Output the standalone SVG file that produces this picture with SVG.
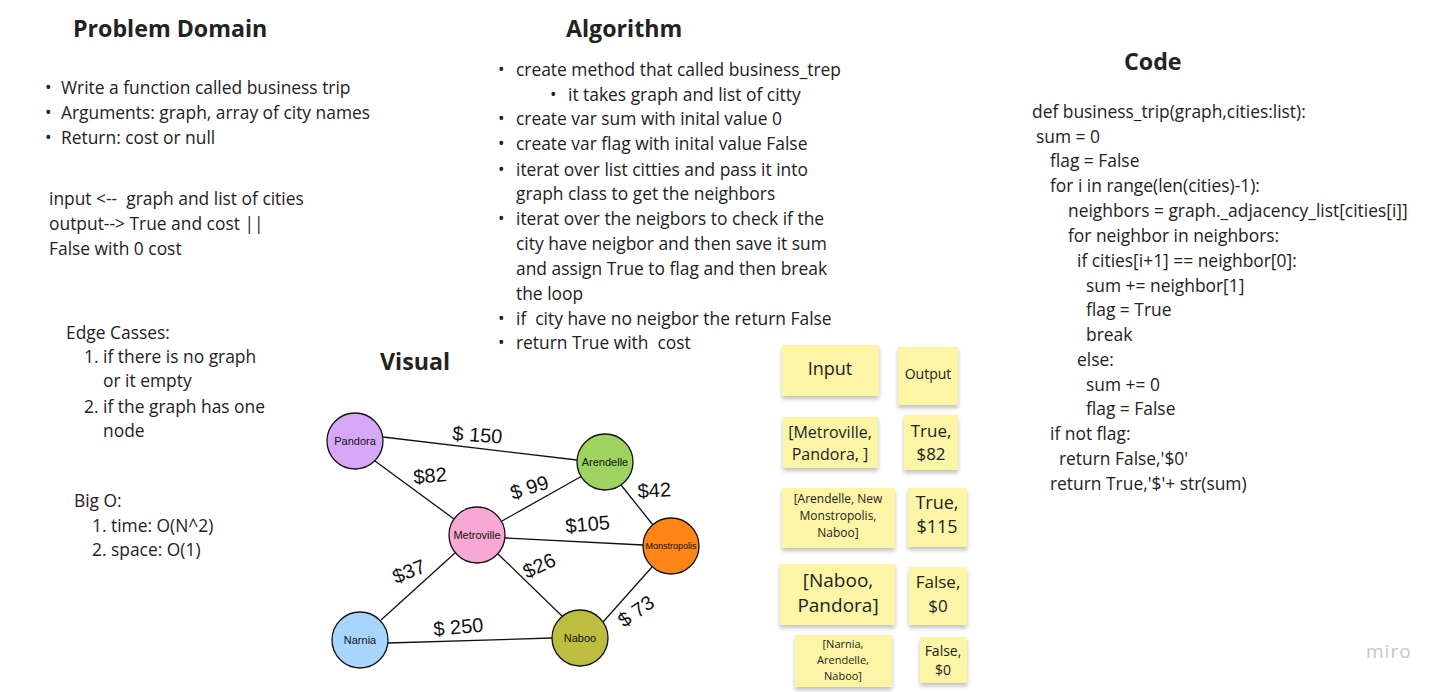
<svg xmlns="http://www.w3.org/2000/svg" width="1444" height="692" viewBox="0 0 1444 692">
<defs>
<filter id="sh" x="-10%" y="-10%" width="120%" height="140%">
<feDropShadow dx="0" dy="3" stdDeviation="2" flood-color="#000" flood-opacity="0.25"/>
</filter>
<style>
text{font-family:"Open Sans","Noto Sans","Liberation Sans",sans-serif;fill:#222;white-space:pre;}
.h{font-size:23.2px;font-weight:bold;}
.b{font-size:17.4px;}
.n{font-family:"Liberation Sans",sans-serif;font-size:11px;fill:#111;text-anchor:middle;}
.e{font-family:"Liberation Sans",sans-serif;font-size:20px;fill:#111;}
.st{fill:#fdf5a6;filter:url(#sh);}
.sc{text-anchor:middle;}
.edge{stroke:#111;stroke-width:1.3;fill:none;}
.node{stroke:#111;stroke-width:1.3;}
</style>
</defs>
<rect width="1444" height="692" fill="#fff"/>

<g id="problem-domain">
<text class="h" x="73" y="37">Problem Domain</text>
<g class="b">
<text x="45" y="94">•</text><text x="61" y="94">Write a function called business trip</text>
<text x="45" y="119">•</text><text x="61" y="119">Arguments: graph, array of city names</text>
<text x="45" y="144">•</text><text x="61" y="144">Return: cost or null</text>
<text x="49" y="205" xml:space="preserve">input &lt;--  graph and list of cities</text>
<text x="49" y="230">output--&gt; True and cost ||</text>
<text x="49" y="255">False with 0 cost</text>
<text x="66" y="339">Edge Casses:</text>
<text x="84" y="363">1. if there is no graph</text>
<text x="103" y="387">or it empty</text>
<text x="84" y="413">2. if the graph has one</text>
<text x="103" y="437">node</text>
<text x="74" y="507">Big O:</text>
<text x="92" y="532">1. time: O(N^2)</text>
<text x="92" y="556">2. space: O(1)</text>
</g>
</g>

<g id="algorithm">
<text class="h" x="566" y="37">Algorithm</text>
<g class="b">
<text x="498" y="76">•</text><text x="516" y="76">create method that called business_trep</text>
<text x="550" y="101">•</text><text x="568" y="101">it takes graph and list of citty</text>
<text x="498" y="125">•</text><text x="516" y="125">create var sum with inital value 0</text>
<text x="498" y="150">•</text><text x="516" y="150">create var flag with inital value False</text>
<text x="498" y="176">•</text><text x="516" y="176">iterat over list citties and pass it into</text>
<text x="516" y="200">graph class to get the neighbors</text>
<text x="498" y="225">•</text><text x="516" y="225">iterat over the neigbors to check if the</text>
<text x="516" y="250">city have neigbor and then save it sum</text>
<text x="516" y="275">and assign True to flag and then break</text>
<text x="516" y="300">the loop</text>
<text x="498" y="325">•</text><text x="516" y="325" xml:space="preserve">if  city have no neigbor the return False</text>
<text x="498" y="349">•</text><text x="516" y="349" xml:space="preserve">return True with  cost</text>
</g>
</g>

<g id="code">
<text class="h" x="1124" y="70">Code</text>
<g class="b">
<text x="1032" y="118">def business_trip(graph,cities:list):</text>
<text x="1036" y="143">sum = 0</text>
<text x="1050" y="167">flag = False</text>
<text x="1050" y="192">for i in range(len(cities)-1):</text>
<text x="1068" y="217">neighbors = graph._adjacency_list[cities[i]]</text>
<text x="1068" y="242">for neighbor in neighbors:</text>
<text x="1077" y="267">if cities[i+1] == neighbor[0]:</text>
<text x="1086" y="292">sum += neighbor[1]</text>
<text x="1086" y="316">flag = True</text>
<text x="1086" y="341">break</text>
<text x="1077" y="366">else:</text>
<text x="1086" y="391">sum += 0</text>
<text x="1086" y="415">flag = False</text>
<text x="1050" y="440">if not flag:</text>
<text x="1059" y="465">return False,'$0'</text>
<text x="1050" y="490">return True,'$'+ str(sum)</text>
</g>
</g>

<g id="visual-title"><text class="h" x="380" y="370">Visual</text></g>

<g id="connectors">
<line class="edge" x1="383" y1="437" x2="577" y2="460"/>
<line class="edge" x1="375" y1="461" x2="454" y2="519"/>
<line class="edge" x1="502" y1="521" x2="582" y2="476"/>
<line class="edge" x1="621" y1="485" x2="653" y2="525"/>
<line class="edge" x1="505" y1="538" x2="643" y2="545"/>
<line class="edge" x1="455" y1="553" x2="381" y2="620"/>
<line class="edge" x1="498" y1="554" x2="563" y2="617"/>
<line class="edge" x1="388" y1="643" x2="552" y2="638"/>
<line class="edge" x1="603" y1="622" x2="652" y2="567"/>
<text class="e" x="452" y="440" transform="rotate(4 452 440)">$ 150</text>
<text class="e" x="414" y="484" transform="rotate(-5 414 484)">$82</text>
<text class="e" x="513" y="500" transform="rotate(-18 513 500)">$ 99</text>
<text class="e" x="638" y="498" transform="rotate(-3 638 498)">$42</text>
<text class="e" x="566" y="533" transform="rotate(-5 566 533)">$105</text>
<text class="e" x="396" y="584" transform="rotate(-22 396 584)">$37</text>
<text class="e" x="527" y="579" transform="rotate(-25 527 579)">$26</text>
<text class="e" x="434" y="636" transform="rotate(-5 434 636)">$ 250</text>
<text class="e" x="624" y="628" transform="rotate(-35 624 628)">$ 73</text>
</g>

<g id="node-pandora"><circle class="node" cx="355" cy="441" r="28" fill="#d8a8f8"/><text class="n" x="355" y="445">Pandora</text></g>
<g id="node-arendelle"><circle class="node" cx="605" cy="462" r="28" fill="#9dd35e"/><text class="n" x="605" y="466">Arendelle</text></g>
<g id="node-metroville"><circle class="node" cx="477" cy="535" r="28" fill="#f7a9d4"/><text class="n" x="477" y="539">Metroville</text></g>
<g id="node-monstropolis"><circle class="node" cx="671" cy="546" r="28" fill="#ff8516"/><text class="n" x="671" y="549" style="font-size:9px">Monstropolis</text></g>
<g id="node-narnia"><circle class="node" cx="360" cy="640" r="28" fill="#a7d5fb"/><text class="n" x="360" y="644">Narnia</text></g>
<g id="node-naboo"><circle class="node" cx="580" cy="638" r="28" fill="#bdbd3f"/><text class="n" x="580" y="642">Naboo</text></g>

<g id="sticky-input"><rect class="st" x="782" y="345" width="97" height="51"/><text class="sc" x="830" y="375" style="font-size:18px">Input</text></g>
<g id="sticky-output"><rect class="st" x="898" y="347" width="60" height="58"/><text class="sc" x="928" y="379" style="font-size:14px">Output</text></g>
<g id="sticky-in1"><rect class="st" x="783" y="417" width="95" height="51"/><text class="sc" style="font-size:16px"><tspan x="830" y="438">[Metroville,</tspan><tspan x="830" y="460">Pandora, ]</tspan></text></g>
<g id="sticky-out1"><rect class="st" x="904" y="415" width="54" height="55"/><text class="sc" style="font-size:17px"><tspan x="931" y="437">True,</tspan><tspan x="931" y="460">$82</tspan></text></g>
<g id="sticky-in2"><rect class="st" x="782" y="488" width="113" height="60"/><text class="sc" style="font-size:12px"><tspan x="838" y="503">[Arendelle, New</tspan><tspan x="838" y="520">Monstropolis,</tspan><tspan x="838" y="537">Naboo]</tspan></text></g>
<g id="sticky-out2"><rect class="st" x="908" y="488" width="59" height="59"/><text class="sc" style="font-size:18px"><tspan x="937" y="509">True,</tspan><tspan x="937" y="533">$115</tspan></text></g>
<g id="sticky-in3"><rect class="st" x="780" y="564" width="115" height="61"/><text class="sc" style="font-size:19px"><tspan x="838" y="587">[Naboo,</tspan><tspan x="838" y="612">Pandora]</tspan></text></g>
<g id="sticky-out3"><rect class="st" x="909" y="567" width="58" height="58"/><text class="sc" style="font-size:17px"><tspan x="938" y="588">False,</tspan><tspan x="938" y="612">$0</tspan></text></g>
<g id="sticky-in4"><rect class="st" x="795" y="635" width="97" height="52"/><text class="sc" style="font-size:11px"><tspan x="843" y="648">[Narnia,</tspan><tspan x="843" y="664">Arendelle,</tspan><tspan x="843" y="680">Naboo]</tspan></text></g>
<g id="sticky-out4"><rect class="st" x="920" y="637" width="47" height="46"/><text class="sc" style="font-size:14px"><tspan x="943" y="656">False,</tspan><tspan x="943" y="675">$0</tspan></text></g>

<text x="1366" y="658" style="font-size:19px;fill:#c5c5cc;letter-spacing:1px">miro</text>
</svg>
